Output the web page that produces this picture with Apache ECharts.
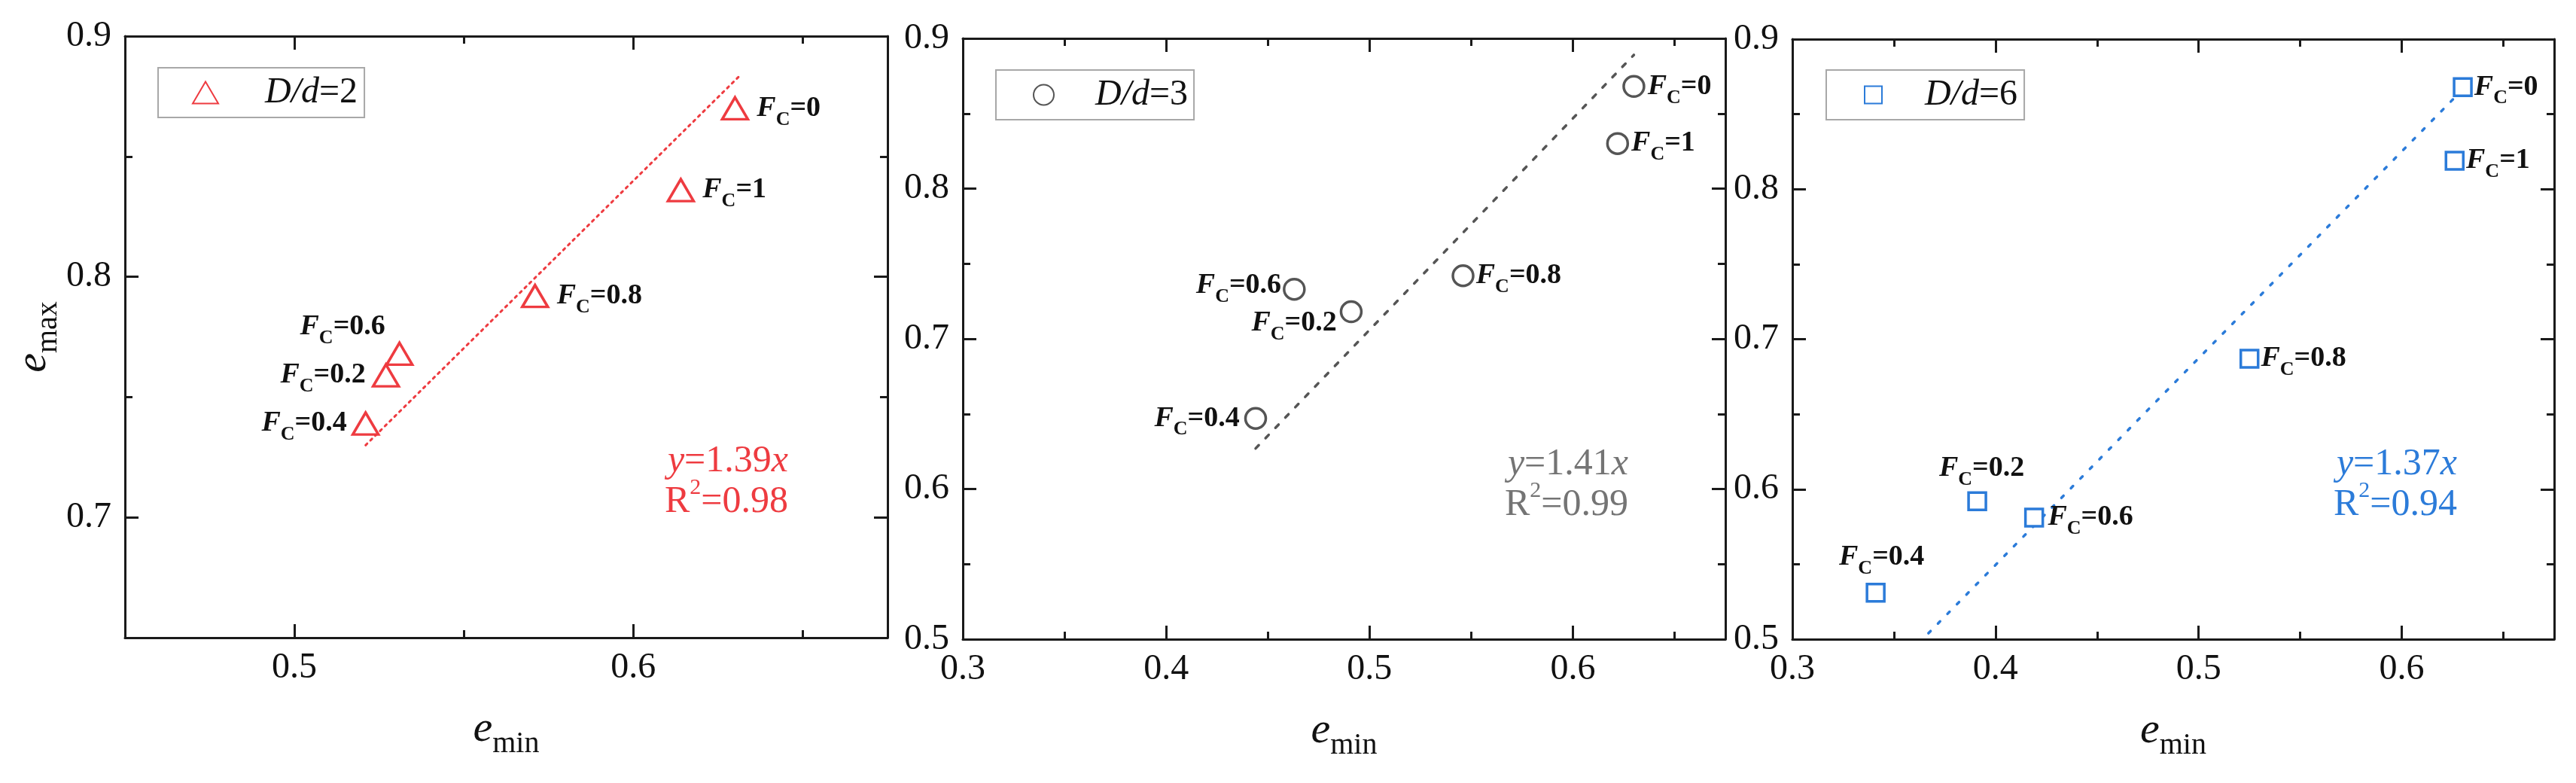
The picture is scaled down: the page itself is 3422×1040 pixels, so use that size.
<!DOCTYPE html>
<html>
<head>
<meta charset="utf-8">
<script src="https://cdn.jsdelivr.net/npm/echarts@6/dist/echarts.min.js"></script>
<style>
  html, body { margin: 0; background: #fff; }
  #chart { width: 3422px; height: 1040px; }
</style>
</head>
<body>
<div id="chart"></div>
<script>
// F_C value of each point (same order in every panel)
const fcValues = ['0', '1', '0.8', '0.6', '0.2', '0.4'];

// D/d = 2
const eMinD2 = [0.630, 0.614, 0.571, 0.531, 0.527, 0.521];
const eMaxD2 = [0.870, 0.836, 0.792, 0.768, 0.759, 0.739];
// D/d = 3
const eMinD3 = [0.630, 0.622, 0.546, 0.463, 0.491, 0.444];
const eMaxD3 = [0.868, 0.830, 0.742, 0.733, 0.718, 0.647];
// D/d = 6
const eMinD6 = [0.630, 0.626, 0.525, 0.419, 0.391, 0.341];
const eMaxD6 = [0.868, 0.819, 0.687, 0.581, 0.592, 0.531];

// fitted lines, end points
const fitD2 = [[0.521, 0.730], [0.631, 0.883]];
const fitD3 = [[0.444, 0.627], [0.630, 0.889]];
const fitD6 = [[0.367, 0.504], [0.626, 0.861]];
const slopes = ['1.39', '1.41', '1.37'];
const r2 = ['0.98', '0.99', '0.94'];
const seriesNames = ['D/d=2', 'D/d=3', 'D/d=6'];

// axis ranges and ticks
const xRange = [[0.45, 0.675], [0.3, 0.675], [0.3, 0.675]];
const yRange = [[0.65, 0.9], [0.5, 0.9], [0.5, 0.9]];
const xMajor = [[0.5, 0.6], [0.3, 0.4, 0.5, 0.6], [0.3, 0.4, 0.5, 0.6]];
const xMinor = [[0.55, 0.65], [0.35, 0.45, 0.55, 0.65], [0.35, 0.45, 0.55, 0.65]];
const yMajor = [[0.7, 0.8, 0.9], [0.5, 0.6, 0.7, 0.8, 0.9], [0.5, 0.6, 0.7, 0.8, 0.9]];
const yMinor = [[0.75, 0.85], [0.55, 0.65, 0.75, 0.85], [0.55, 0.65, 0.75, 0.85]];

// ---- styles ----
const SERIF = '"Liberation Serif", "Times New Roman", serif';
const AXIS = '#1a1a1a';
const colors = ['#ee3b40', '#555555', '#2b7bd9'];
const textColors = ['#ee3b40', '#747474', '#2b7bd9'];
const symbols = ['triangle', 'circle', 'rect'];
const symbolSizes = [[34, 29], 27, 23];

const grids = [
  { left: 166, top: 48, width: 1013, height: 799 },
  { left: 1279, top: 51, width: 1013, height: 798 },
  { left: 2381, top: 52, width: 1012, height: 797 }
];

const labelPlace = [
  [{ position: 'right', distance: 10 }, { position: 'right', distance: 10 }, { position: 'right', distance: 10 },
   { position: 'left', distance: 0, offset: [0, -36] }, { position: 'left', distance: 8 }, { position: 'left', distance: 6 }],
  [{ position: 'right', distance: 3 }, { position: 'right', distance: 3 }, { position: 'right', distance: 2 },
   { position: 'left', distance: 2, offset: [0, -5] }, { position: 'left', distance: 4, offset: [0, 15] }, { position: 'left', distance: 6 }],
  [{ position: 'right', distance: 2 }, { position: 'right', distance: 2 }, { position: 'right', distance: 2 },
   { position: 'right', distance: 5 }, { position: 'top', distance: 8, offset: [6, 0] }, { position: 'top', distance: 12, offset: [8, 0] }]
];

const legendBox = [
  { left: 210, top: 90, padL: 45, padR: 9, gap: 57 },
  { left: 1323, top: 93, padL: 49, padR: 8, gap: 50 },
  { left: 2426, top: 93, padL: 50, padR: 9, gap: 52 }
];
const fitTextPos = [[1047, 640], [2163, 644], [3264, 644]];

const tickLabel = { fontFamily: SERIF, fontSize: 48, color: '#111' };
const nameRich = {
  e: { fontFamily: SERIF, fontStyle: 'italic', fontSize: 58, lineHeight: 60, color: '#111' },
  s: { fontFamily: SERIF, fontSize: 40, lineHeight: 40, padding: [38, 0, 0, 0], color: '#111' }
};

function axesFor(dim, g) {
  const range = dim === 'x' ? xRange[g] : yRange[g];
  const major = dim === 'x' ? xMajor[g] : yMajor[g];
  const minor = dim === 'x' ? xMinor[g] : yMinor[g];
  const sides = dim === 'x' ? ['bottom', 'top'] : ['left', 'right'];
  const out = [];
  sides.forEach((pos, k) => {
    const base = { type: 'value', gridIndex: g, min: range[0], max: range[1], position: pos, splitLine: { show: false } };
    const main = Object.assign({}, base, {
      axisLine: { show: true, onZero: false, lineStyle: { color: AXIS, width: 3 } },
      axisTick: { show: true, inside: true, length: 18, customValues: major, lineStyle: { color: AXIS, width: 3 } },
      axisLabel: k === 0
        ? Object.assign({ show: true, customValues: major, margin: dim === 'x' ? 16 : 18, formatter: v => v.toFixed(1) }, tickLabel)
        : { show: false }
    });
    if (k === 0 && dim === 'x') {
      Object.assign(main, { name: '{e|e}{s|min}', nameLocation: 'middle', nameGap: 92, nameTextStyle: { rich: nameRich } });
    }
    if (k === 0 && dim === 'y' && g === 0) {
      Object.assign(main, { name: '{e|e}{s|max}', nameLocation: 'middle', nameGap: 89, nameTextStyle: { rich: nameRich } });
    }
    out.push(main);
    out.push(Object.assign({}, base, {
      axisLine: { show: false, onZero: false },
      axisTick: { show: true, inside: true, length: 10, customValues: minor, lineStyle: { color: AXIS, width: 3 } },
      axisLabel: { show: false }
    }));
  });
  return out;
}

const xAxes = [], yAxes = [];
[0, 1, 2].forEach(g => { xAxes.push(...axesFor('x', g)); yAxes.push(...axesFor('y', g)); });

const pointSets = [[eMinD2, eMaxD2], [eMinD3, eMaxD3], [eMinD6, eMaxD6]];
const fits = [fitD2, fitD3, fitD6];

const fcRich = {
  f: { fontFamily: SERIF, fontStyle: 'italic', fontWeight: 'bold', fontSize: 38, lineHeight: 44, color: '#111' },
  c: { fontFamily: SERIF, fontWeight: 'bold', fontSize: 26, lineHeight: 26, padding: [30, 0, 0, 0], color: '#111' },
  v: { fontFamily: SERIF, fontWeight: 'bold', fontSize: 38, lineHeight: 44, color: '#111' }
};

const series = [];
[0, 1, 2].forEach(g => {
  const [xs, ys] = pointSets[g];
  series.push({
    name: seriesNames[g],
    type: 'scatter',
    xAxisIndex: g * 4,
    yAxisIndex: g * 4,
    symbol: symbols[g],
    symbolSize: symbolSizes[g],
    itemStyle: { color: '#fff', borderColor: colors[g], borderWidth: 3.5, opacity: 1 },
    label: {
      show: true,
      formatter: p => '{f|F}{c|C}{v|=' + fcValues[p.dataIndex] + '}',
      rich: fcRich
    },
    data: xs.map((x, i) => ({ value: [x, ys[i]], label: labelPlace[g][i] })),
    z: 3
  });
  series.push({
    type: 'line',
    xAxisIndex: g * 4,
    yAxisIndex: g * 4,
    data: fits[g],
    symbol: 'none',
    silent: true,
    lineStyle: {
      color: colors[g],
      width: g === 0 ? 3 : 3.5,
      type: g === 0 ? [3, 6] : (g === 1 ? [6, 13] : [4, 14]),
      cap: 'round'
    },
    z: 2
  });
});

const legends = [0, 1, 2].map(g => ({
  data: [seriesNames[g]],
  left: legendBox[g].left,
  top: legendBox[g].top,
  orient: 'horizontal',
  selectedMode: false,
  borderColor: '#a8a8a8',
  borderWidth: 2,
  borderRadius: 0,
  padding: [9, legendBox[g].padR, 9, legendBox[g].padL],
  itemWidth: Array.isArray(symbolSizes[g]) ? symbolSizes[g][0] : symbolSizes[g],
  itemHeight: Array.isArray(symbolSizes[g]) ? symbolSizes[g][1] : symbolSizes[g],
  symbolKeepAspect: false,
  formatter: name => '{gap|}{i|' + name.slice(0, 3) + '}{n|' + name.slice(3) + '}',
  textStyle: {
    rich: {
      gap: { width: legendBox[g].gap },
      i: { fontFamily: SERIF, fontStyle: 'italic', fontSize: 48, lineHeight: 50, color: '#111' },
      n: { fontFamily: SERIF, fontSize: 48, lineHeight: 50, color: '#111' }
    }
  }
}));

const graphics = [0, 1, 2].map(g => ({
  type: 'text',
  x: fitTextPos[g][0],
  y: fitTextPos[g][1],
  style: {
    text: '{i|y}{n|=' + slopes[g] + '}{i|x}\n{n|R}{sup|2}{n|=' + r2[g] + '}',
    align: 'right',
    verticalAlign: 'middle',
    rich: {
      i: { fontFamily: SERIF, fontStyle: 'italic', fontSize: 50, lineHeight: 54, fill: textColors[g], align: 'right' },
      n: { fontFamily: SERIF, fontSize: 50, lineHeight: 54, fill: textColors[g], align: 'right' },
      sup: { fontFamily: SERIF, fontSize: 30, lineHeight: 30, padding: [0, 0, 37, 0], fill: textColors[g], align: 'right' }
    }
  }
}));

const chart = echarts.init(document.getElementById('chart'), null, { renderer: 'canvas' });
chart.setOption({
  backgroundColor: '#fff',
  animation: false,
  grid: grids,
  xAxis: xAxes,
  yAxis: yAxes,
  legend: legends,
  graphic: graphics,
  series: series
});
</script>
</body>
</html>
